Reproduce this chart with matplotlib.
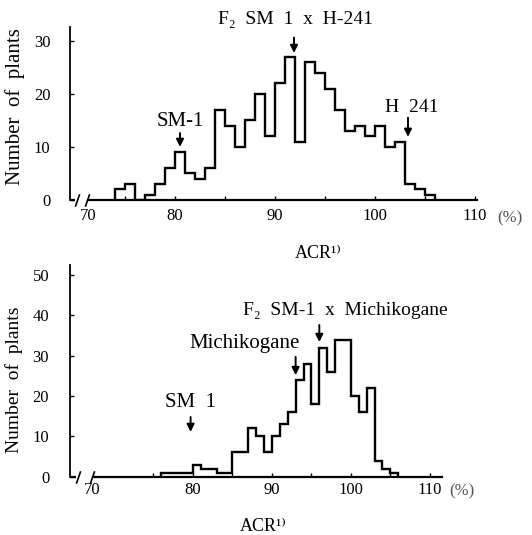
import matplotlib.pyplot as plt
from matplotlib.path import Path

plt.rcParams['font.family'] = ['Liberation Serif', 'DejaVu Serif']

# F2 SM-1 x H-241, 1 %-wide ACR classes
top_edges = list(range(74, 107))
top_counts = [2, 3, 0, 1, 3, 6, 9, 5, 4, 6, 17, 14, 10, 15, 20, 12,
              22, 27, 11, 26, 24, 21, 17, 13, 14, 12, 14, 10, 11, 3, 2, 1]

# F2 SM-1 x Michikogane
bot_edges = list(range(76, 107))
bot_counts = [1, 1, 1, 1, 3, 2, 2, 1, 1, 6, 6, 12, 10, 6, 10, 13,
              16, 24, 28, 18, 32, 26, 34, 34, 20, 16, 22, 4, 2, 1]

x_major = [80, 90, 100, 110]
x_minor = [75, 85, 95, 105]
top_yticks = [0, 10, 20, 30]
bot_yticks = [0, 10, 20, 30, 40, 50]

fig = plt.figure(figsize=(5.32, 5.35), dpi=100)
ax1 = fig.add_axes([0.1316, 0.6262, 0.765, 0.3234])
ax2 = fig.add_axes([0.1316, 0.109, 0.6987, 0.3957])

brk = Path([(-0.35, -1), (0.35, 1)], [Path.MOVETO, Path.LINETO])


def base_axes(ax, xlim, ylim, stub_end, marks, line_start, yticks, ypad, xpad):
    ax.set_xlim(*xlim)
    ax.set_ylim(*ylim)
    for s in ('top', 'right'):
        ax.spines[s].set_visible(False)
    ax.spines['left'].set_linewidth(1.3)
    ax.spines['bottom'].set_linewidth(1.6)
    ax.spines['bottom'].set_bounds(line_start, xlim[1])
    # broken x axis near 70
    ax.plot([xlim[0], stub_end], [0, 0], color='k', lw=1.6, clip_on=False,
            solid_capstyle='butt')
    ax.plot(marks, [0] * len(marks), ls='none', marker=brk, ms=9, mew=1.2,
            color='k', clip_on=False)
    ax.set_xticks(x_major)
    ax.set_xticks(x_minor, minor=True)
    ax.set_yticks(yticks)
    ax.tick_params(which='both', direction='in', length=3, width=1,
                   labelsize=12)
    ax.tick_params(axis='y', pad=ypad)
    ax.tick_params(axis='x', pad=xpad)
    ax.annotate('70', xy=(line_start, 0), xycoords=('data', 'axes fraction'),
                xytext=(0, -xpad), textcoords='offset points',
                ha='center', va='top', fontsize=12)


def arrow(ax, x, y_tail, y_tip):
    ax.annotate('', xy=(x, y_tip), xytext=(x, y_tail),
                arrowprops=dict(arrowstyle='-|>', color='k', lw=1.4,
                                mutation_scale=11, shrinkA=0, shrinkB=0),
                annotation_clip=False)


# ---- top panel
base_axes(ax1, (69.5, 110.2), (0, 32.6), 70.0, [70.2, 71.2], 71.3,
          top_yticks, 14, 6)
ax1.stairs(top_counts, top_edges, color='k', lw=1.7, baseline=0)
ax1.set_ylabel('Number  of  plants', fontsize=15)
ax1.yaxis.set_label_coords(-0.11, 0.54)
ax1.set_xlabel('ACR¹⁾', fontsize=13)
ax1.xaxis.set_label_coords(0.609, -0.26)
ax1.text(1.081, -0.104, '(%)', transform=ax1.transAxes, ha='center',
         va='center', fontsize=12, color='#555555')

ax1.text(92, 34.0, 'F₂  SM  1  x  H-241', ha='center', va='center', fontsize=14)
arrow(ax1, 91.9, 30.6, 27.7)
ax1.text(80.5, 14.7, 'SM-1', ha='center', va='center', fontsize=15)
arrow(ax1, 80.5, 12.6, 10.0)
ax1.text(103.7, 17.5, 'H  241', ha='center', va='center', fontsize=14)
arrow(ax1, 103.3, 15.5, 11.9)

# ---- bottom panel
base_axes(ax2, (64.43, 111.5), (0, 52.5), 65.2, [65.4, 67.2], 67.3,
          bot_yticks, 15, 4)
ax2.stairs(bot_counts, bot_edges, color='k', lw=1.7, baseline=0)
ax2.set_ylabel('Number  of  plants', fontsize=14)
ax2.yaxis.set_label_coords(-0.126, 0.457)
ax2.set_xlabel('ACR¹⁾', fontsize=13)
ax2.xaxis.set_label_coords(0.519, -0.195)
ax2.text(1.055, -0.068, '(%)', transform=ax2.transAxes, ha='center',
         va='center', fontsize=12, color='#555555')

ax2.text(86.3, 41.1, 'F₂  SM-1  x  Michikogane', ha='left', va='center',
         fontsize=14)
arrow(ax2, 96.0, 37.6, 33.4)
ax2.text(93.5, 33.1, 'Michikogane', ha='right', va='center', fontsize=15)
arrow(ax2, 93.0, 29.7, 25.2)
ax2.text(79.7, 18.5, 'SM  1', ha='center', va='center', fontsize=15)
arrow(ax2, 79.7, 14.8, 11.1)

fig.savefig('out.png', dpi=100)
